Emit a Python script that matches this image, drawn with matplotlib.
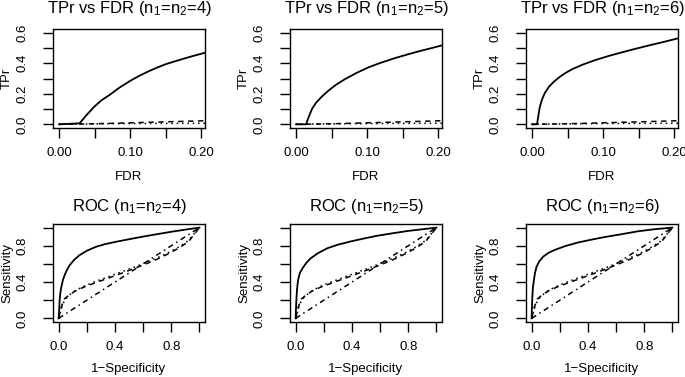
import numpy as np
import matplotlib.pyplot as plt

plt.rcParams['font.family'] = ['Liberation Sans', 'DejaVu Sans']
plt.rcParams['mathtext.default'] = 'regular'

sizes = [4, 5, 6]

# TPr vs FDR, one set of curves per sample size
fdr_solid = {
    4: [0.0, 0.029, 0.039, 0.050, 0.060, 0.072, 0.085, 0.100, 0.114, 0.128, 0.140, 0.151, 0.163, 0.175, 0.190, 0.210],
    5: [0.0, 0.014, 0.019, 0.023, 0.028, 0.036, 0.045, 0.056, 0.069, 0.085, 0.102, 0.120, 0.139, 0.156, 0.173, 0.190, 0.210],
    6: [0.0, 0.007, 0.0095, 0.011, 0.014, 0.018, 0.024, 0.031, 0.038, 0.047, 0.057, 0.072, 0.090, 0.109, 0.128, 0.147, 0.166, 0.186, 0.210],
}
tpr_solid = {
    4: [0.0, 0.007, 0.062, 0.117, 0.158, 0.195, 0.240, 0.284, 0.320, 0.351, 0.375, 0.395, 0.412, 0.429, 0.449, 0.474],
    5: [0.0, 0.0, 0.062, 0.105, 0.140, 0.180, 0.218, 0.258, 0.296, 0.336, 0.373, 0.404, 0.433, 0.456, 0.478, 0.498, 0.522],
    6: [0.0, 0.0, 0.073, 0.115, 0.162, 0.205, 0.247, 0.280, 0.307, 0.336, 0.362, 0.392, 0.422, 0.449, 0.473, 0.496, 0.518, 0.540, 0.568],
}
fdr_flat = [0.0, 0.03, 0.07, 0.10, 0.14, 0.21]
tpr_dashed = [0.0, 0.002, 0.006, 0.010, 0.015, 0.024]
tpr_dotted = [0.0, 0.002, 0.004, 0.005, 0.006, 0.007]

# ROC curves
fpr_solid = {
    4: [0.0, 0.004, 0.007, 0.012, 0.019, 0.030, 0.042, 0.058, 0.078, 0.110, 0.148, 0.200, 0.266, 0.330, 0.407, 0.500, 0.595, 0.700, 0.807, 0.900, 1.0],
    5: [0.0, 0.003, 0.005, 0.010, 0.017, 0.030, 0.048, 0.075, 0.107, 0.160, 0.226, 0.300, 0.392, 0.490, 0.582, 0.690, 0.796, 0.900, 1.0],
    6: [0.0, 0.002, 0.005, 0.009, 0.016, 0.024, 0.035, 0.055, 0.082, 0.120, 0.165, 0.240, 0.329, 0.420, 0.518, 0.630, 0.753, 0.870, 1.0],
}
tpr_roc_solid = {
    4: [0.0, 0.10, 0.196, 0.280, 0.344, 0.420, 0.474, 0.530, 0.585, 0.645, 0.696, 0.745, 0.789, 0.818, 0.844, 0.872, 0.900, 0.928, 0.956, 0.978, 1.0],
    5: [0.0, 0.12, 0.197, 0.320, 0.420, 0.500, 0.550, 0.610, 0.662, 0.720, 0.773, 0.812, 0.848, 0.882, 0.911, 0.938, 0.963, 0.982, 1.0],
    6: [0.0, 0.12, 0.234, 0.340, 0.420, 0.500, 0.569, 0.630, 0.680, 0.722, 0.755, 0.797, 0.836, 0.866, 0.896, 0.925, 0.959, 0.982, 1.0],
}
fpr_weak = [0.0, 0.02, 0.042, 0.080, 0.125, 0.180, 0.242, 0.320, 0.407, 0.500, 0.595, 0.690, 0.784, 0.860, 0.925, 1.0]
tpr_dashed_roc = [0.0, 0.13, 0.215, 0.265, 0.307, 0.345, 0.381, 0.425, 0.474, 0.528, 0.585, 0.645, 0.715, 0.780, 0.850, 1.0]
tpr_dotted_roc = [0.0, 0.11, 0.200, 0.262, 0.312, 0.355, 0.395, 0.440, 0.490, 0.544, 0.600, 0.660, 0.728, 0.792, 0.860, 1.0]
diag = [0.0, 1.0]

fig = plt.figure(figsize=(6.85, 3.77), dpi=100)
W, H = 685.0, 377.0
lefts = [53, 290, 526]
bw = 152


def style(ax):
    for s in ax.spines.values():
        s.set_linewidth(1.0)
    ax.tick_params(direction='out', length=7, width=1.0, labelsize=9.5)
    ax.tick_params(axis='x', pad=6.5)
    ax.tick_params(axis='y', pad=10.5)
    for lab in ax.get_yticklabels():
        lab.set_rotation(90)
        lab.set_rotation_mode('default')
        lab.set_ha('right')
        lab.set_va('center')


for i, n in enumerate(sizes):
    # top row: TPr vs FDR
    ax = fig.add_axes([lefts[i] / W, 1 - 128 / H, bw / W, 99 / H])
    ax.plot(fdr_flat, tpr_dotted, color='black', lw=1.1, ls=(0, (1, 2.5)))
    ax.plot(fdr_flat, tpr_dashed, color='black', lw=1.1, ls=(0, (3.5, 3)))
    ax.plot(fdr_solid[n], tpr_solid[n], color='black', lw=1.3)
    ax.set_xlim(-0.0085, 0.2056)
    ax.set_ylim(-0.024, 0.624)
    ax.set_xticks([0.0, 0.05, 0.10, 0.15, 0.20])
    ax.set_xticklabels(['0.00', '', '0.10', '', '0.20'])
    ax.set_yticks([0.0, 0.1, 0.2, 0.3, 0.4, 0.5, 0.6])
    ax.set_yticklabels(['0.0', '', '0.2', '', '0.4', '', '0.6'])
    style(ax)
    ax.text(0.5, 1 + 20 / 99, 'TPr vs FDR (n$_1$=n$_2$=%d)' % n, transform=ax.transAxes,
            ha='center', va='center', fontsize=12)
    ax.set_xlabel('FDR', fontsize=9.5)
    ax.xaxis.set_label_coords(0.5, -43 / 99)
    ax.set_ylabel('TPr', fontsize=9.5)
    ax.yaxis.set_label_coords(-40 / bw, 0.5)

    # bottom row: ROC
    ax = fig.add_axes([lefts[i] / W, 1 - 322 / H, bw / W, 98 / H])
    ax.plot(diag, diag, color='black', lw=1.1, ls=(0, (3.5, 2.5, 1, 2.5)))
    ax.plot(fpr_weak, tpr_dotted_roc, color='black', lw=1.1, ls=(0, (1, 2.5)))
    ax.plot(fpr_weak, tpr_dashed_roc, color='black', lw=1.1, ls=(0, (3.5, 3)))
    ax.plot(fpr_solid[n], tpr_roc_solid[n], color='black', lw=1.3)
    ax.set_xlim(-0.04, 1.04)
    ax.set_ylim(-0.04, 1.04)
    ticks = [0.0, 0.2, 0.4, 0.6, 0.8, 1.0]
    labs = ['0.0', '', '0.4', '', '0.8', '']
    ax.set_xticks(ticks)
    ax.set_xticklabels(labs)
    ax.set_yticks(ticks)
    ax.set_yticklabels(labs)
    style(ax)
    ax.text(0.5, 1 + 18 / 98, 'ROC (n$_1$=n$_2$=%d)' % n, transform=ax.transAxes,
            ha='center', va='center', fontsize=12)
    ax.set_xlabel('1\u2212Specificity', fontsize=9.5)
    ax.xaxis.set_label_coords(0.5, -41 / 98)
    ax.set_ylabel('Sensitivity', fontsize=9.5)
    ax.yaxis.set_label_coords(-40 / bw, 0.5)

fig.savefig('out.png', dpi=100)
